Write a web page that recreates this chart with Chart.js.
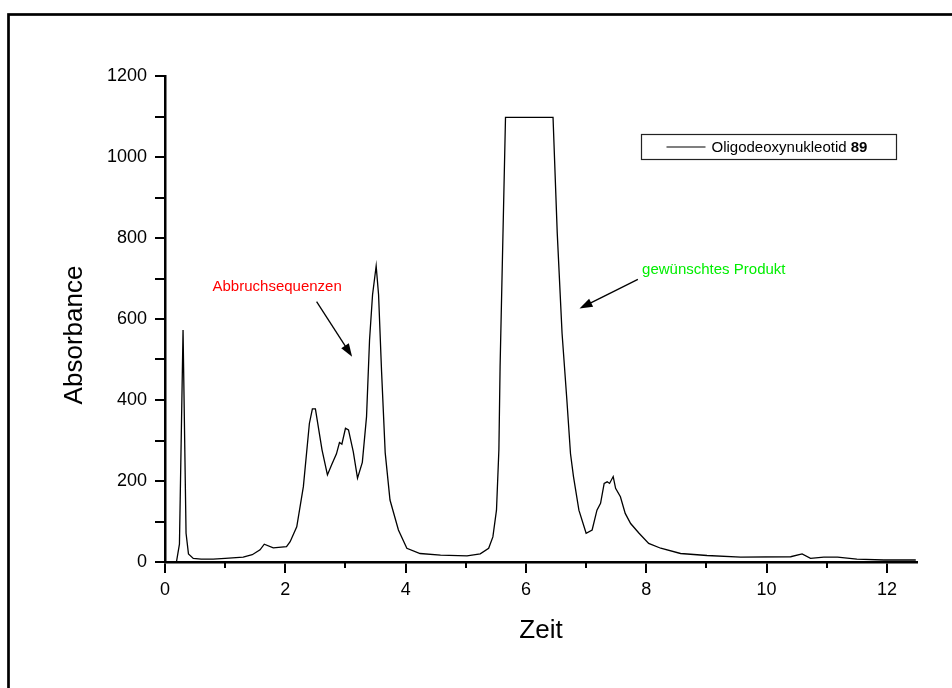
<!DOCTYPE html>
<html>
<head>
<meta charset="utf-8">
<script src="https://cdn.jsdelivr.net/npm/chart.js@4.4.1/dist/chart.umd.min.js"></script>
<style>
    html, body { margin: 0; padding: 0; background: #fff; }
    canvas { display: block; }
</style>
</head>
<body>
<canvas id="chromChart" width="952" height="688"></canvas>
<script>
// values
const timeValues = [
    0, 0.19, 0.24, 0.3, 0.35, 0.39, 0.47, 0.6, 0.8, 1.0, 1.3, 1.45, 1.58, 1.65, 1.8,
    2.02, 2.08, 2.19, 2.3, 2.4, 2.45, 2.5, 2.61, 2.7, 2.77, 2.85, 2.9, 2.94, 3.0, 3.05,
    3.13, 3.2, 3.28, 3.35, 3.4, 3.45, 3.51, 3.55, 3.6, 3.66, 3.74, 3.88, 4.02, 4.24, 4.58,
    5.02, 5.24, 5.38, 5.45, 5.51, 5.55, 5.57, 5.66, 6.45, 6.52, 6.6, 6.68, 6.74, 6.79,
    6.88, 7.0, 7.1, 7.18, 7.24, 7.3, 7.35, 7.39, 7.45, 7.49, 7.57, 7.65, 7.74, 7.88,
    8.04, 8.24, 8.57, 9.01, 9.57, 10.4, 10.59, 10.73, 10.95, 11.18, 11.5, 11.95, 12.48
];
const absorbanceValues = [
    0, 0, 44, 573, 71, 20, 9, 7, 7, 9, 12, 18, 30, 44, 35,
    38, 50, 87, 186, 342, 378, 378, 277, 215, 240, 267, 295, 291, 330, 326,
    272, 207, 246, 359, 548, 660, 731, 660, 470, 270, 153, 79, 34, 21, 17,
    15, 20, 34, 62, 128, 277, 482, 1098, 1098, 812, 565, 400, 268, 211,
    128, 71, 79, 128, 145, 194, 198, 194, 211, 182, 161, 120, 95, 71,
    46, 34, 21, 16, 12, 13, 20, 9, 12, 12, 7, 5, 5
];

const xMajorTicks = [0, 2, 4, 6, 8, 10, 12];
const xMinorTicks = [1, 3, 5, 7, 9, 11];
const yTicks = [0, 100, 200, 300, 400, 500, 600, 700, 800, 900, 1000, 1100, 1200];

const xTitle = "Zeit";
const yTitle = "Absorbance";
const seriesName = "Oligodeoxynukleotid ";
const seriesNumber = "89";

const notes = [
    { text: "Abbruchsequenzen", color: "#ff0000", x: 0.79, y: 668, from: [2.52, 643], to: [3.11, 507] },
    { text: "gewünschtes Produkt", color: "#00ee00", x: 7.93, y: 711, from: [7.86, 698], to: [6.89, 626] }
];

const FONT = "Arial, 'Liberation Sans', sans-serif";

function drawArrow(ctx, x1, y1, x2, y2) {
    const ang = Math.atan2(y2 - y1, x2 - x1);
    const len = 13, half = 4.5;
    ctx.beginPath();
    ctx.moveTo(x1, y1);
    ctx.lineTo(x2 - Math.cos(ang) * len * 0.8, y2 - Math.sin(ang) * len * 0.8);
    ctx.stroke();
    ctx.beginPath();
    ctx.moveTo(x2, y2);
    ctx.lineTo(x2 - Math.cos(ang) * len - Math.sin(ang) * half, y2 - Math.sin(ang) * len + Math.cos(ang) * half);
    ctx.lineTo(x2 - Math.cos(ang) * len + Math.sin(ang) * half, y2 - Math.sin(ang) * len - Math.cos(ang) * half);
    ctx.closePath();
    ctx.fill();
}

const decorPlugin = {
    id: "decor",
    beforeDraw(chart) {
        const ctx = chart.ctx;
        ctx.save();
        ctx.fillStyle = "#fff";
        ctx.fillRect(0, 0, chart.width, chart.height);
        ctx.strokeStyle = "#000";
        ctx.lineWidth = 2.7;
        ctx.strokeRect(8.5, 14.5, chart.width + 50, chart.height + 50);
        ctx.restore();
    },
    afterDraw(chart) {
        const ctx = chart.ctx;
        const xs = chart.scales.x, ys = chart.scales.y;
        const area = chart.chartArea;
        ctx.save();

        // minor x ticks
        ctx.strokeStyle = "#000";
        ctx.lineWidth = 2;
        for (const v of xMinorTicks) {
            const px = Math.round(xs.getPixelForValue(v));
            ctx.beginPath();
            ctx.moveTo(px, area.bottom);
            ctx.lineTo(px, area.bottom + 6);
            ctx.stroke();
        }

        // y title, sits a little below the axis middle in the original
        ctx.save();
        ctx.translate(area.left - 90, (area.top + area.bottom) / 2 + 16);
        ctx.rotate(-Math.PI / 2);
        ctx.font = "26px " + FONT;
        ctx.fillStyle = "#000";
        ctx.textAlign = "center";
        ctx.textBaseline = "middle";
        ctx.fillText(yTitle, 0, 0);
        ctx.restore();

        // annotations
        ctx.font = "15px " + FONT;
        ctx.textBaseline = "alphabetic";
        ctx.textAlign = "left";
        for (const n of notes) {
            ctx.fillStyle = n.color;
            ctx.fillText(n.text, xs.getPixelForValue(n.x), ys.getPixelForValue(n.y));
            ctx.strokeStyle = "#000";
            ctx.fillStyle = "#000";
            ctx.lineWidth = 1.3;
            drawArrow(ctx,
                xs.getPixelForValue(n.from[0]), ys.getPixelForValue(n.from[1]),
                xs.getPixelForValue(n.to[0]), ys.getPixelForValue(n.to[1]));
        }

        // legend box
        const bx = area.right - 275.5, by = area.top + 58.5;
        ctx.strokeStyle = "#222";
        ctx.lineWidth = 1.2;
        ctx.strokeRect(bx, by, 255, 25);
        ctx.strokeStyle = "#000";
        ctx.beginPath();
        ctx.moveTo(bx + 25, by + 12.5);
        ctx.lineTo(bx + 64, by + 12.5);
        ctx.stroke();
        ctx.fillStyle = "#000";
        ctx.textBaseline = "middle";
        ctx.font = "15px " + FONT;
        ctx.fillText(seriesName, bx + 70, by + 13);
        const w = ctx.measureText(seriesName).width;
        ctx.font = "bold 15px " + FONT;
        ctx.fillText(seriesNumber, bx + 70 + w, by + 13);

        ctx.restore();
    }
};

function initChart() {
    const points = timeValues.map((t, i) => ({ x: t, y: absorbanceValues[i] }));

    const config = {
        type: "line",
        data: {
            datasets: [{
                label: seriesName + seriesNumber,
                data: points,
                borderColor: "#000",
                borderWidth: 1.3,
                pointRadius: 0,
                tension: 0,
                fill: false
            }]
        },
        options: {
            responsive: false,
            animation: false,
            layout: { padding: { left: 0, top: 76, right: 35, bottom: 0 } },
            plugins: {
                legend: { display: false },
                tooltip: { enabled: false }
            },
            scales: {
                x: {
                    type: "linear",
                    min: 0,
                    max: 12.5,
                    afterBuildTicks: (scale) => {
                        scale.ticks = xMajorTicks.map(v => ({ value: v }));
                    },
                    afterFit: (scale) => { scale.height = 126; },
                    ticks: {
                        autoSkip: false,
                        maxRotation: 0,
                        color: "#000",
                        padding: 6,
                        font: { family: FONT, size: 18 }
                    },
                    grid: {
                        drawOnChartArea: false,
                        color: "#000",
                        lineWidth: 2,
                        tickLength: 11
                    },
                    border: { color: "#000", width: 2.5 },
                    title: {
                        display: true,
                        text: xTitle,
                        color: "#000",
                        font: { family: FONT, size: 26 },
                        padding: { top: 0, bottom: 42 }
                    }
                },
                y: {
                    min: 0,
                    max: 1200,
                    afterBuildTicks: (scale) => {
                        scale.ticks = yTicks.map(v => ({ value: v }));
                    },
                    afterFit: (scale) => { scale.width = 165; },
                    ticks: {
                        autoSkip: false,
                        color: "#000",
                        padding: 8,
                        font: { family: FONT, size: 18 },
                        callback: (v) => (v % 200 === 0 ? String(v) : "")
                    },
                    grid: {
                        drawOnChartArea: false,
                        color: "#000",
                        lineWidth: 2,
                        tickLength: 10
                    },
                    border: { color: "#000", width: 2.5 }
                }
            }
        },
        plugins: [decorPlugin]
    };

    new Chart(document.getElementById("chromChart").getContext("2d"), config);
}

document.addEventListener("DOMContentLoaded", initChart);
</script>
</body>
</html>
